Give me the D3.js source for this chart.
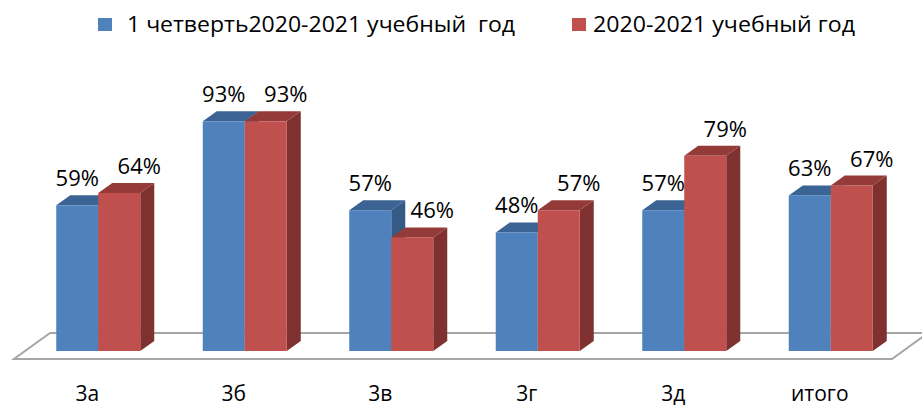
<!DOCTYPE html>
<html>
<head>
<meta charset="utf-8">
<script src="https://d3js.org/d3.v7.min.js"></script>
<style>
  body { margin: 0; background: #fff; }
  text { font-family: "Open Sans", "Noto Sans", sans-serif; fill: #000; }
</style>
</head>
<body>
<div id="chart"></div>
<script>
const categories = ["3а", "3б", "3в", "3г", "3д", "итого"];
const seriesNames = ["1 четверть2020-2021 учебный  год", "2020-2021 учебный год"];
const firstQuarter = [59, 93, 57, 48, 57, 63];
const schoolYear = [64, 93, 46, 57, 79, 67];

const colors = [
  {front: "#4F81BD", top: "#3B6494", side: "#355A86"},
  {front: "#C0504D", top: "#943B39", side: "#7E312F"}
];

const width = 922, height = 406;
const depthX = 14, depthY = 10;

const svg = d3.select("#chart").append("svg")
    .attr("width", width)
    .attr("height", height);

const x0 = d3.scaleBand().domain(categories).range([25, 904]);
const x1 = d3.scaleBand().domain([0, 1]).range([0, 84]);
const y = d3.scaleLinear().domain([0, 100]).range([351, 104]);

// floor
const fy = y(0) + 8;
svg.append("polygon")
    .attr("points", [[14, fy], [892, fy], [928, fy - 26], [50, fy - 26]].map(p => p.join(",")).join(" "))
    .attr("fill", "#fff")
    .attr("stroke", "#A6A6A6")
    .attr("stroke-width", 2);

const rows = categories.map((c, i) => ({cat: c, vals: [firstQuarter[i], schoolYear[i]]}));

rows.forEach(function (r) {
    const cx = x0(r.cat) + x0.bandwidth() / 2 - 42;
    const g = svg.append("g");
    r.vals.forEach(function (v, s) {
        const bx = cx + x1(s), bw = x1.bandwidth();
        const top = y(v), bot = y(0);
        // side
        g.append("polygon")
            .attr("points", [[bx + bw, top], [bx + bw + depthX, top - depthY], [bx + bw + depthX, bot - depthY], [bx + bw, bot]].map(p => p.join(",")).join(" "))
            .attr("fill", colors[s].side);
        // top
        g.append("polygon")
            .attr("points", [[bx, top], [bx + depthX, top - depthY], [bx + bw + depthX, top - depthY], [bx + bw, top]].map(p => p.join(",")).join(" "))
            .attr("fill", colors[s].top);
        // front
        g.append("rect")
            .attr("x", bx)
            .attr("y", top)
            .attr("width", bw)
            .attr("height", bot - top)
            .attr("fill", colors[s].front);
    });
    // value labels
    r.vals.forEach(function (v, s) {
        const bx = cx + x1(s), bw = x1.bandwidth();
        svg.append("text")
            .attr("x", bx + bw / 2 + (s === 1 ? 20 : 0))
            .attr("y", y(v) - 19)
            .attr("text-anchor", "middle")
            .style("font-size", "22px")
            .text(v + "%");
    });
    // category label
    svg.append("text")
        .attr("x", x0(r.cat) + x0.bandwidth() / 2 - 11)
        .attr("y", 401)
        .attr("text-anchor", "middle")
        .style("font-size", "21px")
        .text(r.cat);
});

// legend
const legendItems = [
    {sq: 98, tx: 127, len: 388},
    {sq: 572, tx: 593, len: 262}
];
seriesNames.forEach(function (name, i) {
    svg.append("rect")
        .attr("x", legendItems[i].sq)
        .attr("y", 18)
        .attr("width", 14)
        .attr("height", 13)
        .attr("fill", colors[i].front);
    svg.append("text")
        .attr("x", legendItems[i].tx)
        .attr("y", 32)
        .attr("textLength", legendItems[i].len)
        .attr("lengthAdjust", "spacingAndGlyphs")
        .style("font-size", "21px")
        .style("white-space", "pre")
        .text(name);
});
</script>
</body>
</html>
